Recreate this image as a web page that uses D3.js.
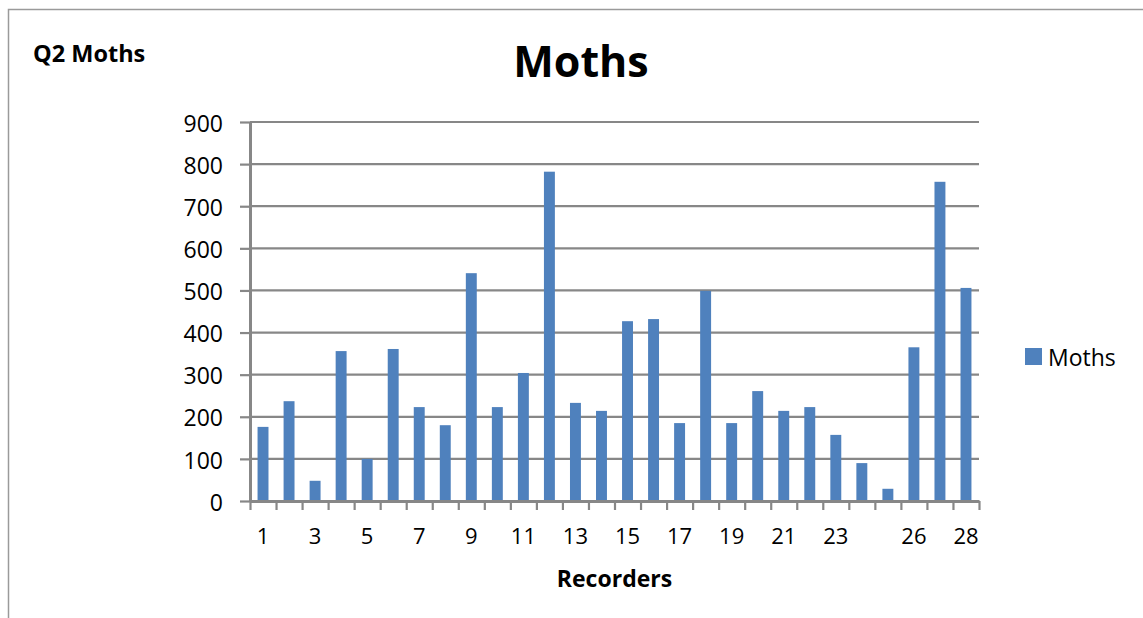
<!DOCTYPE html>
<html>
<head>
<meta charset="utf-8">
<script src="https://cdn.jsdelivr.net/npm/d3@7"></script>
<style>
  html, body { margin: 0; padding: 0; background: #fff; }
  svg { display: block; font-family: "Open Sans", sans-serif; }
</style>
</head>
<body>
<div id="chart"></div>
<script>
// recorder numbers along the x axis
var recorders = d3.range(1, 29).map(String);
// moth counts per recorder
var moths = [176, 237, 48, 356, 100, 361, 223, 180, 541, 223, 304, 782, 233, 214,
             427, 432, 185, 499, 185, 261, 214, 223, 157, 90, 29, 365, 758, 506];
// which category labels excel actually printed
var shownLabels = ["1", "3", "5", "7", "9", "11", "13", "15", "17", "19", "21", "23", "26", "28"];
var yTicks = [0, 100, 200, 300, 400, 500, 600, 700, 800, 900];

const W = 1143, H = 618;
const plot = {left: 250, right: 979, top: 122, bottom: 501};
const gray = "#878787";
const font = '"Open Sans", sans-serif';

const svg = d3.select("#chart").append("svg")
    .attr("width", W)
    .attr("height", H);

// outer chart border (right and bottom are off the picture)
svg.append("rect")
    .attr("x", 8.5).attr("y", 9.5)
    .attr("width", W + 20).attr("height", H + 20)
    .attr("fill", "none")
    .attr("stroke", "#9a9a9a")
    .attr("stroke-width", 1.5);

const x = d3.scaleBand()
    .domain(recorders)
    .range([plot.left, plot.right])
    .paddingInner(0.58)
    .paddingOuter(0.29);

const xEdge = d3.scaleLinear()
    .domain([0, recorders.length])
    .range([plot.left, plot.right]);

const y = d3.scaleLinear()
    .domain([0, 900])
    .range([plot.bottom, plot.top]);

// gridlines
svg.append("g")
    .selectAll("line")
    .data(yTicks.filter(d => d > 0))
    .join("line")
    .attr("x1", plot.left).attr("x2", plot.right)
    .attr("y1", d => y(d)).attr("y2", d => y(d))
    .attr("stroke", gray)
    .attr("stroke-width", 2.2);

// bars
svg.append("g")
    .selectAll("rect")
    .data(moths)
    .join("rect")
    .attr("x", (d, i) => x(recorders[i]))
    .attr("y", d => y(d))
    .attr("width", x.bandwidth())
    .attr("height", d => y(0) - y(d))
    .attr("fill", "#4F81BD");

// y axis
const yAxis = svg.append("g")
    .attr("transform", `translate(${plot.left},0)`)
    .call(d3.axisLeft(y).tickValues(yTicks).tickSize(10).tickSizeOuter(0).tickPadding(17));
yAxis.attr("font-family", font).attr("font-size", 23);
yAxis.select(".domain").attr("stroke", gray).attr("stroke-width", 3);
yAxis.selectAll(".tick line").attr("stroke", gray).attr("stroke-width", 2.2);
yAxis.selectAll(".tick text")
    .attr("dy", "0.4em")
    .attr("fill", "#000");

// x axis: ticks on category edges
const xAxis = svg.append("g")
    .attr("transform", `translate(0,${plot.bottom})`)
    .call(d3.axisBottom(xEdge).tickValues(d3.range(0, recorders.length + 1))
        .tickSize(9).tickSizeOuter(0).tickFormat(""));
xAxis.select(".domain").attr("stroke", gray).attr("stroke-width", 3);
xAxis.selectAll(".tick line").attr("stroke", gray).attr("stroke-width", 2.2);

// x labels
const xLabels = svg.append("g")
    .attr("transform", `translate(0,${plot.bottom})`)
    .call(d3.axisBottom(x).tickValues(shownLabels).tickSize(0).tickPadding(27));
xLabels.attr("font-family", font).attr("font-size", 22);
xLabels.select(".domain").remove();
xLabels.selectAll(".tick text").attr("fill", "#000");

// titles
svg.append("text")
    .attr("x", 581).attr("y", 77)
    .attr("text-anchor", "middle")
    .style("font-size", "43px")
    .style("font-weight", "bold")
    .text("Moths");

svg.append("text")
    .attr("x", 33).attr("y", 62)
    .style("font-size", "23.5px")
    .style("font-weight", "bold")
    .text("Q2 Moths");

svg.append("text")
    .attr("x", (plot.left + plot.right) / 2).attr("y", 587)
    .attr("text-anchor", "middle")
    .style("font-size", "23px")
    .style("font-weight", "bold")
    .text("Recorders");

// legend
const legend = svg.append("g").attr("transform", "translate(1025,348)");
legend.append("rect")
    .attr("width", 17).attr("height", 17)
    .attr("fill", "#4F81BD");
legend.append("text")
    .attr("x", 23).attr("y", 18)
    .style("font-size", "23px")
    .text("Moths");
</script>
</body>
</html>
